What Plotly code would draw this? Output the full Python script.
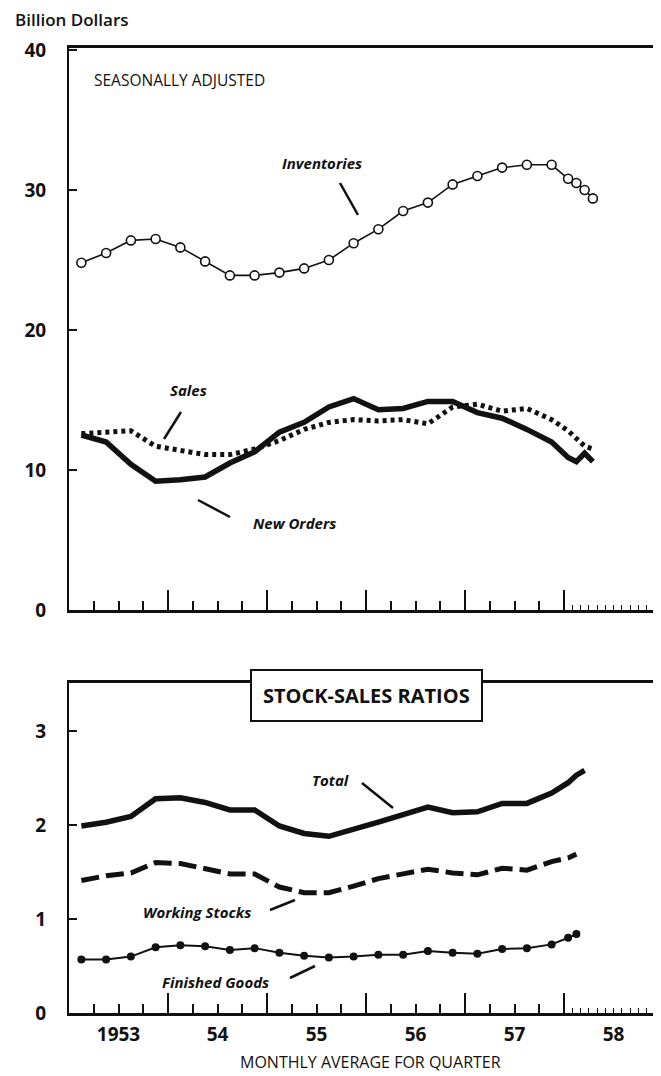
"""Manufacturers' inventories, sales, new orders and stock-sales ratios, 1953-58."""

import plotly.graph_objects as go

# ------------------------------------------------------------------
# Data (monthly average for quarter; monthly figures in 1958)
# ------------------------------------------------------------------
QUARTERS = [
    "1953 Q1", "1953 Q2", "1953 Q3", "1953 Q4",
    "1954 Q1", "1954 Q2", "1954 Q3", "1954 Q4",
    "1955 Q1", "1955 Q2", "1955 Q3", "1955 Q4",
    "1956 Q1", "1956 Q2", "1956 Q3", "1956 Q4",
    "1957 Q1", "1957 Q2", "1957 Q3", "1957 Q4",
]
MONTHS_1958 = ["1958-01", "1958-02", "1958-03", "1958-04"]

# billion dollars
inventories = [24.8, 25.5, 26.4, 26.5, 25.9, 24.9, 23.9, 23.9, 24.1, 24.4,
               25.0, 26.2, 27.2, 28.5, 29.1, 30.4, 31.0, 31.6, 31.8, 31.8,
               30.8, 30.5, 30.0, 29.4]
sales = [12.6, 12.7, 12.8, 11.7, 11.4, 11.1, 11.1, 11.5, 12.1, 12.9,
         13.4, 13.6, 13.5, 13.6, 13.3, 14.5, 14.7, 14.2, 14.4, 13.6,
         12.8, 12.2, 11.7, 11.5]
new_orders = [12.5, 12.0, 10.4, 9.2, 9.3, 9.5, 10.5, 11.3, 12.7, 13.4,
              14.5, 15.1, 14.3, 14.4, 14.9, 14.9, 14.1, 13.7, 12.9, 12.0,
              10.9, 10.6, 11.2, 10.6]

# stock-sales ratios
ratio_total = [1.99, 2.03, 2.09, 2.28, 2.29, 2.24, 2.16, 2.16, 1.99, 1.91,
               1.88, 1.95, 2.03, 2.11, 2.19, 2.13, 2.14, 2.23, 2.23, 2.34,
               2.45, 2.53, 2.58]
ratio_working = [1.41, 1.46, 1.49, 1.60, 1.59, 1.54, 1.48, 1.48, 1.34, 1.28,
                 1.28, 1.35, 1.43, 1.48, 1.53, 1.49, 1.47, 1.54, 1.52, 1.61,
                 1.65, 1.69]
ratio_finished = [0.57, 0.57, 0.60, 0.70, 0.72, 0.71, 0.67, 0.69, 0.64, 0.61,
                  0.59, 0.60, 0.62, 0.62, 0.66, 0.64, 0.63, 0.68, 0.69, 0.73,
                  0.80, 0.84]

YEAR_LABELS = ["1953", "54", "55", "56", "57", "58"]


def to_year(label):
    """Mid-point of a quarter ("1953 Q1") or month ("1958-01") as decimal year."""
    if "Q" in label:
        y, q = label.split(" Q")
        return int(y) + (int(q) - 0.5) / 4
    y, m = label.split("-")
    return int(y) + (int(m) - 0.5) / 12


periods = QUARTERS + MONTHS_1958
x_main = [to_year(p) for p in periods]
x_total = x_main[:len(ratio_total)]
x_parts = x_main[:len(ratio_working)]

# ------------------------------------------------------------------
# Layout helpers (page has an 8px body margin, so the figure is 8px smaller)
# ------------------------------------------------------------------
OFF = 8
W, H = 661 - OFF, 1076 - OFF
LEFT, TOP, BOTTOM = 69, 48, 1013          # plot area edges in page pixels
ML, MT, MB = LEFT - OFF, TOP - OFF, H - (BOTTOM - OFF)
PLOT_W, PLOT_H = W - ML, BOTTOM - TOP
X_RANGE = [1953, 1953 + PLOT_W / 99.0]
FONT = "'Open Sans', Lato, sans-serif"
INK = "#111111"


def px_paper(px, py):
    return (px - LEFT) / PLOT_W, (BOTTOM - py) / PLOT_H


fig = go.Figure()

fig.add_trace(go.Scatter(
    x=x_main, y=sales, mode="lines", xaxis="x", yaxis="y",
    line=dict(color=INK, width=5, dash="4px,4px"), name="Sales"))
fig.add_trace(go.Scatter(
    x=x_main, y=new_orders, mode="lines", xaxis="x", yaxis="y",
    line=dict(color=INK, width=5.5), name="New Orders"))
fig.add_trace(go.Scatter(
    x=x_main, y=inventories, mode="lines+markers", xaxis="x", yaxis="y",
    line=dict(color=INK, width=1.6),
    marker=dict(symbol="circle", size=9, color="white",
                line=dict(color=INK, width=1.6)),
    name="Inventories"))

fig.add_trace(go.Scatter(
    x=x_total, y=ratio_total, mode="lines", xaxis="x2", yaxis="y2",
    line=dict(color=INK, width=5.5), name="Total"))
fig.add_trace(go.Scatter(
    x=x_parts, y=ratio_working, mode="lines", xaxis="x2", yaxis="y2",
    line=dict(color=INK, width=5, dash="18px,7px"), name="Working Stocks"))
fig.add_trace(go.Scatter(
    x=x_parts, y=ratio_finished, mode="lines+markers", xaxis="x2", yaxis="y2",
    line=dict(color=INK, width=2),
    marker=dict(symbol="circle", size=8, color=INK),
    name="Finished Goods"))

# empty traces so the overlay axes (month ticks, year labels, right ticks) get drawn
for xa, ya in [("x3", "y"), ("x4", "y2"), ("x5", "y2"), ("x", "y3"), ("x2", "y4")]:
    fig.add_trace(go.Scatter(x=[], y=[], xaxis=xa, yaxis=ya, mode="lines",
                             hoverinfo="skip", showlegend=False))

year_ticks = [1954, 1955, 1956, 1957, 1958]
quarter_ticks = [y + q / 4 for y in range(1953, 1958) for q in (1, 2, 3)]
month_ticks = [1958 + k / 12 for k in range(1, 12)]
label_ticks = [1953.5 + i for i in range(len(YEAR_LABELS))]


def x_base(anchor, **extra):
    d = dict(range=X_RANGE, domain=[0, 1], anchor=anchor, showgrid=False,
             zeroline=False, fixedrange=True, automargin=False)
    d.update(extra)
    return d


def x_frame(anchor):
    return x_base(
        anchor, tickmode="array", tickvals=year_ticks, ticks="inside",
        ticklen=20, tickwidth=2, tickcolor=INK, showticklabels=False,
        showline=True, linewidth=2.5, linecolor=INK, mirror=True,
        minor=dict(tickmode="array", tickvals=quarter_ticks, ticks="inside",
                   ticklen=9, tickwidth=1.6, tickcolor=INK))


def x_months(base, anchor):
    return x_base(anchor, overlaying=base, tickmode="array", tickvals=month_ticks,
                  ticks="inside", ticklen=5, tickwidth=1.2, tickcolor=INK,
                  showticklabels=False, showline=False)


def y_left(domain, rng, vals, anchor):
    return dict(domain=domain, range=rng, anchor=anchor, tickmode="array",
                tickvals=vals, ticktext=[f"{v:g}" for v in vals],
                ticks="inside", ticklen=8, tickwidth=2, tickcolor=INK,
                showline=True, linewidth=2, linecolor=INK, showgrid=False,
                zeroline=False, fixedrange=True, automargin=False,
                ticklabelstandoff=17,
                tickfont=dict(family=FONT, size=19, color=INK, weight="bold"))


def y_right(base, rng, vals, anchor):
    return dict(overlaying=base, side="right", anchor=anchor, range=rng,
                tickmode="array", tickvals=vals, ticks="inside", ticklen=7,
                tickwidth=2, tickcolor=INK, showticklabels=False,
                showline=False, showgrid=False, zeroline=False,
                fixedrange=True, automargin=False)


Y1 = [0, (610 - TOP) / 14.0]
Y2 = [0, (BOTTOM - 683) / 94.0]
dom1 = [px_paper(0, 610)[1], 1]
dom2 = [0, px_paper(0, 683)[1]]

fig.update_layout(
    width=W, height=H,
    margin=dict(l=ML, r=0, t=MT, b=MB, autoexpand=False),
    paper_bgcolor="white", plot_bgcolor="white",
    showlegend=False,
    font=dict(family=FONT, color=INK),
    xaxis=x_frame("y"),
    xaxis2=x_frame("y2"),
    xaxis3=x_months("x", "y"),
    xaxis4=x_months("x2", "y2"),
    xaxis5=x_base("y2", overlaying="x2", tickmode="array", tickvals=label_ticks,
                  ticktext=YEAR_LABELS, ticks="", showline=False,
                  ticklabelstandoff=8,
                  tickfont=dict(family=FONT, size=19, color=INK, weight="bold")),
    yaxis=y_left(dom1, Y1, [0, 10, 20, 30, 40], "x"),
    yaxis2=y_left(dom2, Y2, [0, 1, 2, 3], "x2"),
    yaxis3=y_right("y", Y1, [10, 20, 30], "x"),
    yaxis4=y_right("y2", Y2, [1, 2, 3], "x2"),
)

# ------------------------------------------------------------------
# Text and leader lines
# ------------------------------------------------------------------
def note(text, x, y, xref="x", yref="y", size=15, anchor="center",
         weight="normal", **kw):
    fig.add_annotation(text=text, x=x, y=y, xref=xref, yref=yref,
                       xanchor=anchor, yanchor="middle", showarrow=False,
                       font=dict(family=FONT, size=size, color=INK,
                                 weight=weight), **kw)


def to_x(px):
    return 1953 + (px - LEFT) / 99.0


def to_y1(py):
    return (610 - py) / 14.0


def to_y2(py):
    return (BOTTOM - py) / 94.0


px, py = px_paper(13, 20)
note("Billion Dollars", px, py, "paper", "paper", size=17, anchor="left",
     weight=600)
note("SEASONALLY ADJUSTED", to_x(92), to_y1(80), size=15.5, anchor="left")
note("<b><i>Inventories</i></b>", to_x(322), to_y1(163))
note("<b><i>Sales</i></b>", to_x(188), to_y1(390))
note("<b><i>New Orders</i></b>", to_x(294), to_y1(523))
note("<b><i>Total</i></b>", to_x(330), to_y2(780), "x2", "y2")
note("<b><i>Working Stocks</i></b>", to_x(197), to_y2(912), "x2", "y2")
note("<b><i>Finished Goods</i></b>", to_x(215), to_y2(982), "x2", "y2")
px, py = px_paper(370, 1062)
note("MONTHLY AVERAGE FOR QUARTER", px, py, "paper", "paper", size=16)
px, py = px_paper(366, 695)
note("<b>STOCK-SALES RATIOS</b>", px, py, "paper", "paper", size=20,
     bgcolor="white", bordercolor=INK, borderwidth=2, borderpad=11)

leaders = [
    ("x", "y", (340, 183), (358, 215), to_y1),
    ("x", "y", (181, 412), (164, 439), to_y1),
    ("x", "y", (198, 500), (230, 517), to_y1),
    ("x2", "y2", (362, 783), (393, 808), to_y2),
    ("x2", "y2", (270, 910), (295, 900), to_y2),
    ("x2", "y2", (290, 978), (315, 966), to_y2),
]
for xr, yr, (ax, ay), (bx, by), conv in leaders:
    fig.add_shape(type="line", xref=xr, yref=yr,
                  x0=to_x(ax), y0=conv(ay), x1=to_x(bx), y1=conv(by),
                  line=dict(color=INK, width=2.5))

fig.write_html("out.html")
